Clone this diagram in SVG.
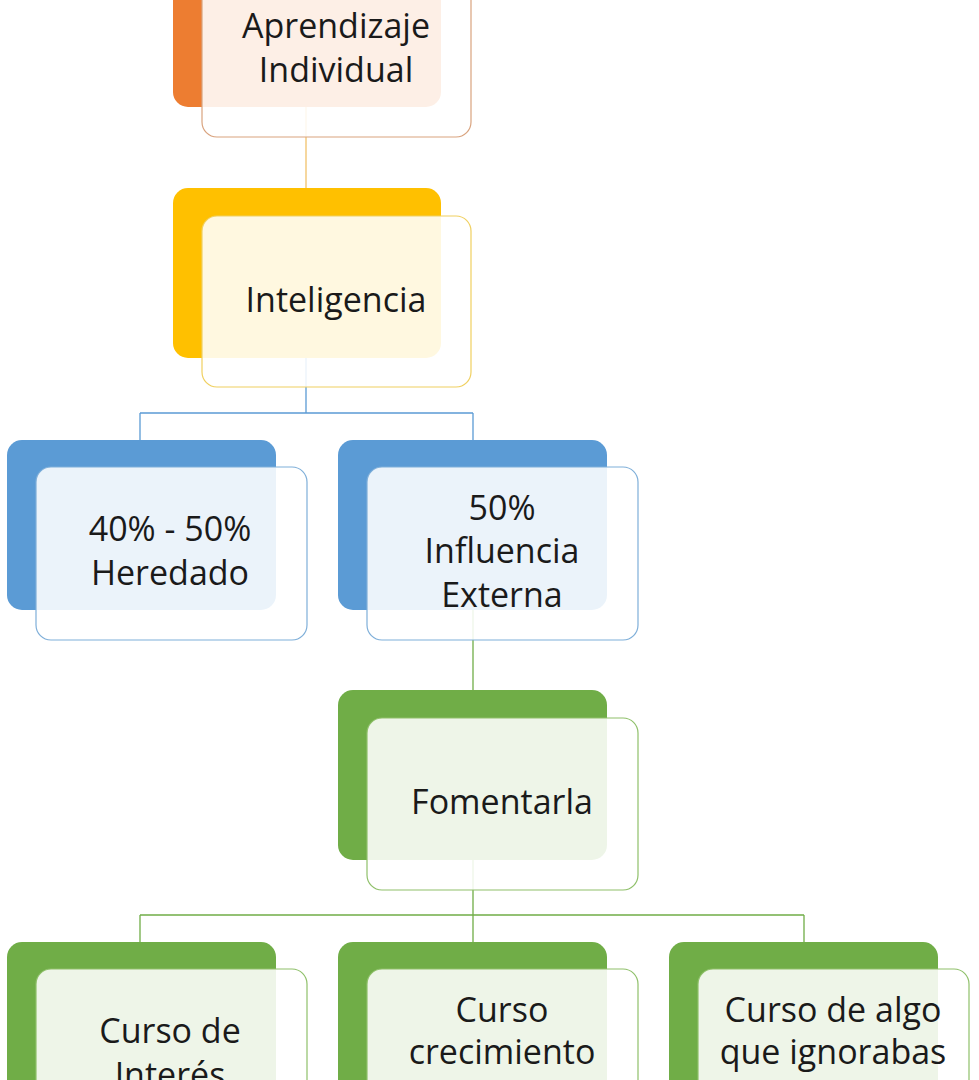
<svg xmlns="http://www.w3.org/2000/svg" width="979" height="1080" viewBox="0 0 979 1080">
<style>
.bg{fill:#ffffff}
.fr{fill:#ffffff;fill-opacity:0.88;stroke-width:1.2}
.t{font-family:"Open Sans","Noto Sans","Liberation Sans",sans-serif;font-size:34px;fill:#1a1a1a;text-anchor:middle}
.c{fill:none;stroke-width:1.3}
</style>
<rect class="bg" x="0" y="0" width="979" height="1080"/>
<g id="connectors">
<path class="c" stroke="#F2C26A" d="M306,107 V188"/>
<path class="c" stroke="#5B9BD5" d="M306,358 V413 M140,413 H473 M140,413 V440 M473,413 V440"/>
<path class="c" stroke="#70AD47" d="M473,610 V690"/>
<path class="c" stroke="#70AD47" d="M473,860 V915 M140,915 H804 M140,915 V942 M473,915 V942 M804,915 V942"/>
</g>
<g id="n-aprendizaje">
<rect x="173" y="-63" width="268" height="170" rx="15" fill="#ED7D31"/>
<rect class="fr" x="202" y="-35" width="269" height="172" rx="15" stroke="#D9A37E"/>
<text class="t" x="336" y="38">Aprendizaje</text>
<text class="t" x="336" y="82">Individual</text>
</g>
<g id="n-inteligencia">
<rect x="173" y="188" width="268" height="170" rx="15" fill="#FFC000"/>
<rect class="fr" x="202" y="216" width="269" height="171" rx="15" stroke="#F0D060"/>
<text class="t" x="336" y="312">Inteligencia</text>
</g>
<g id="n-heredado">
<rect x="7" y="440" width="269" height="170" rx="15" fill="#5B9BD5"/>
<rect class="fr" x="36" y="467" width="271" height="173" rx="15" stroke="#7FAFD9"/>
<text class="t" x="170" y="541">40% - 50%</text>
<text class="t" x="170" y="585">Heredado</text>
</g>
<g id="n-externa">
<rect x="338" y="440" width="269" height="170" rx="15" fill="#5B9BD5"/>
<rect class="fr" x="367" y="467" width="271" height="173" rx="15" stroke="#7FAFD9"/>
<text class="t" x="502" y="520">50%</text>
<text class="t" x="502" y="563">Influencia</text>
<text class="t" x="502" y="607">Externa</text>
</g>
<g id="n-fomentarla">
<rect x="338" y="690" width="269" height="170" rx="15" fill="#70AD47"/>
<rect class="fr" x="367" y="718" width="271" height="172" rx="15" stroke="#8FC06A"/>
<text class="t" x="502" y="814">Fomentarla</text>
</g>
<g id="n-interes">
<rect x="7" y="942" width="269" height="170" rx="15" fill="#70AD47"/>
<rect class="fr" x="36" y="969" width="271" height="172" rx="15" stroke="#8FC06A"/>
<text class="t" x="170" y="1043">Curso de</text>
<text class="t" x="170" y="1087">Interés</text>
</g>
<g id="n-crecimiento">
<rect x="338" y="942" width="269" height="170" rx="15" fill="#70AD47"/>
<rect class="fr" x="367" y="969" width="271" height="172" rx="15" stroke="#8FC06A"/>
<text class="t" x="502" y="1022">Curso</text>
<text class="t" x="502" y="1064">crecimiento</text>
</g>
<g id="n-ignorabas">
<rect x="669" y="942" width="269" height="170" rx="15" fill="#70AD47"/>
<rect class="fr" x="698" y="969" width="271" height="172" rx="15" stroke="#8FC06A"/>
<text class="t" x="833" y="1022">Curso de algo</text>
<text class="t" x="833" y="1064">que ignorabas</text>
</g>
</svg>
